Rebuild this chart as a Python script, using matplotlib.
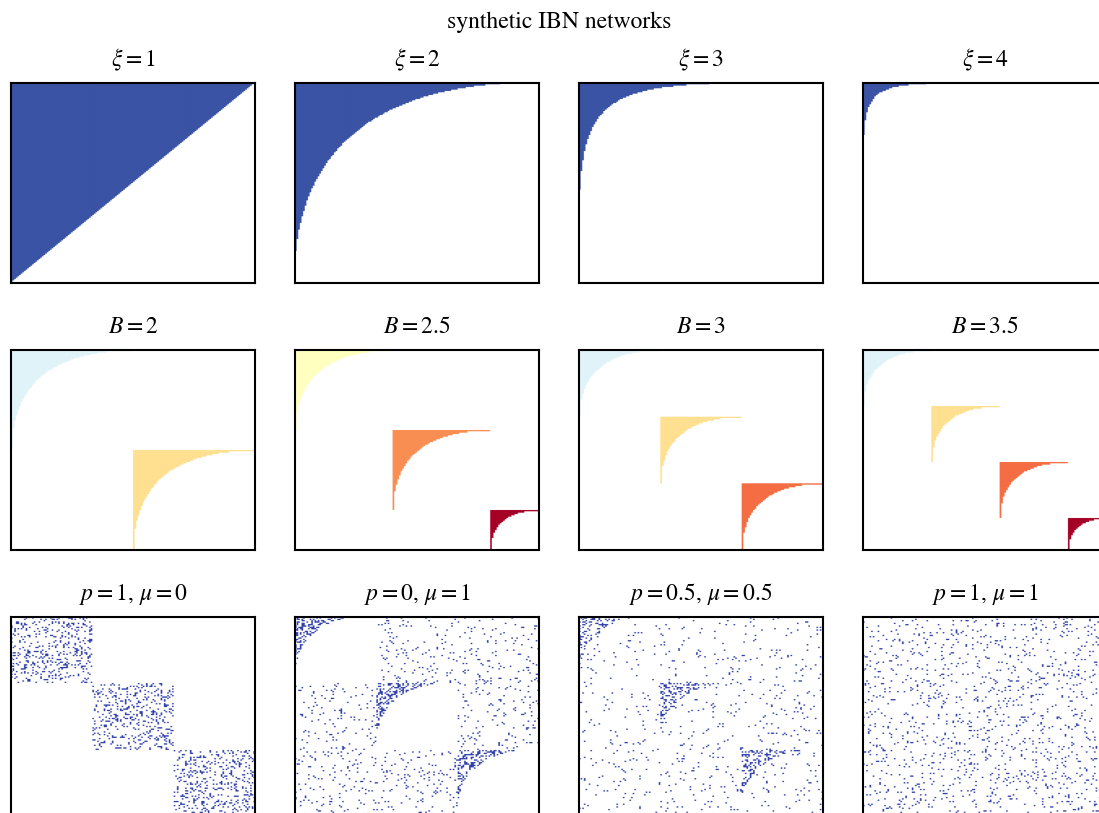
import numpy as np
import matplotlib.pyplot as plt

plt.rcParams['font.family'] = 'STIXGeneral'
plt.rcParams['mathtext.fontset'] = 'stix'

# ---- data ----
# row 1: nestedness exponent of the single nested network
xi_values = [1, 2, 3, 4]
n_nodes = 150
nest_blue = '#3a53a4'

# row 2: number of blocks B, colour of every block
B_values = [2, 2.5, 3, 3.5]
block_colors = [
    ['#e0f3f8', '#fee090'],
    ['#ffffbf', '#f98e52', '#a50026'],
    ['#e0f3f8', '#fee090', '#f46d43', '#a50026'],
    ['#e0f3f8', '#fee090', '#f46d43', '#a50026'],
]
xi_in_block = 2

# row 3: mixed networks, three blocks
p_values = [1, 0, 0.5, 1]
mu_values = [0, 1, 0.5, 1]
n_mix = 150
n_blocks_mix = 3
# link densities
nest_density = [0.0, 0.38, 0.3, 0.0]      # inside the nested corners
block_density = [0.17, 0.0, 0.03, 0.06]   # rest of the diagonal blocks
off_density = [0.0, 0.05, 0.032, 0.06]    # off-diagonal blocks
dot_blue = '#3040a8'


def nested(n, xi, start):
    r = (np.arange(n) + start) / n
    s = r ** (1.0 / xi)
    return s[:, None] + s[None, :] <= 1


def paint(mask, color):
    img = np.ones(mask.shape + (3,))
    img[mask] = plt.matplotlib.colors.to_rgb(color)
    return img


W, H = 1099, 813
fig = plt.figure(figsize=(W / 100, H / 100), dpi=100)
col_left = [11, 295, 579, 863]
row_top = [83, 350, 617]
ax_w, ax_h = 244, 200


def make_ax(r, c, title):
    ax = fig.add_axes([col_left[c] / W, 1 - (row_top[r] + ax_h) / H, ax_w / W, ax_h / H])
    ax.set_xticks([])
    ax.set_yticks([])
    for s in ax.spines.values():
        s.set_linewidth(1.5)
    ax.set_title(title, fontsize=17, pad=12)
    return ax


fig.text(559 / W, 1 - 22 / H, 'synthetic IBN networks', ha='center', va='center', fontsize=17)

# row 1
for c, xi in enumerate(xi_values):
    ax = make_ax(0, c, r'$\xi = %g$' % xi)
    ax.imshow(paint(nested(n_nodes, xi, 1), nest_blue), aspect='auto')

# row 2
for c, B in enumerate(B_values):
    ax = make_ax(1, c, r'$B = %g$' % B)
    size = int(n_nodes / B)
    sizes = [size] * int(n_nodes // size)
    if sum(sizes) < n_nodes:
        sizes.append(n_nodes - sum(sizes))
    img = np.ones((n_nodes, n_nodes, 3))
    start = 0
    for k, nb in enumerate(sizes):
        m = nested(nb, xi_in_block, 0)
        col = plt.matplotlib.colors.to_rgb(block_colors[c][k])
        sub = img[start:start + nb, start:start + nb]
        sub[m] = col
        start += nb
    ax.imshow(img, aspect='auto')

# row 3
rng = np.random.default_rng(7)
nb = n_mix // n_blocks_mix
block_id = np.minimum(np.arange(n_mix) // nb, n_blocks_mix - 1)
diag = block_id[:, None] == block_id[None, :]
nest_mask = np.zeros((n_mix, n_mix), bool)
start = 0
for k in range(n_blocks_mix):
    size = int(np.sum(block_id == k))
    nest_mask[start:start + size, start:start + size] = nested(size, xi_in_block, 1)
    start += size

for c, (p, mu) in enumerate(zip(p_values, mu_values)):
    ax = make_ax(2, c, r'$p = %g$, $\mu = %g$' % (p, mu))
    dens = np.where(diag, block_density[c], off_density[c])
    dens = np.where(nest_mask, np.maximum(dens, nest_density[c]), dens)
    links = rng.random((n_mix, n_mix)) < dens
    ax.imshow(paint(links, dot_blue), aspect='auto')

fig.savefig('out.png', dpi=100)
